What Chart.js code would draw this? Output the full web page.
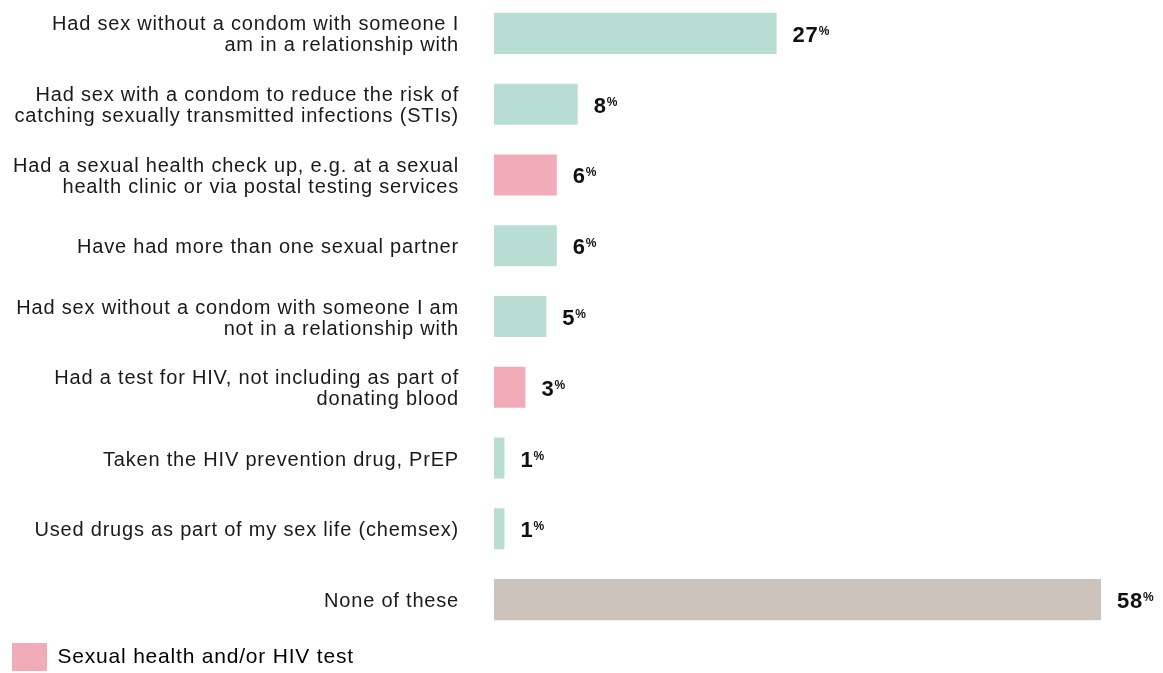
<!DOCTYPE html>
<html>
<head>
<meta charset="utf-8">
<script src="https://cdn.jsdelivr.net/npm/chart.js@4"></script>
<style>
  html, body { margin: 0; padding: 0; background: #fff; overflow: hidden; }
  #wrap { position: absolute; left: 0; top: -2px; width: 1163px; height: 683px; }
</style>
</head>
<body>
<div id="wrap"><canvas id="c"></canvas></div>
<script>
// categories (multi-line labels), values in %, and bar group per row
const labels = [
  ['Had sex without a condom with someone I', 'am in a relationship with'],
  ['Had sex with a condom to reduce the risk of', 'catching sexually transmitted infections (STIs)'],
  ['Had a sexual health check up, e.g. at a sexual', 'health clinic or via postal testing services'],
  'Have had more than one sexual partner',
  ['Had sex without a condom with someone I am', 'not in a relationship with'],
  ['Had a test for HIV, not including as part of', 'donating blood'],
  'Taken the HIV prevention drug, PrEP',
  'Used drugs as part of my sex life (chemsex)',
  'None of these'
];
const values = [27, 8, 6, 6, 5, 3, 1, 1, 58];
const groups = ['other', 'other', 'test', 'other', 'other', 'test', 'other', 'other', 'none'];

const groupColours = { other: '#b8ded3', test: '#f2abb9', none: '#cbc3bc' };
const legendText = 'Sexual health and/or HIV test';
const FONT = '"Liberation Sans", Arial, Helvetica, sans-serif';
const SPACING = '0.8px';

// slightly open tracking for all canvas text (reset whenever the canvas is resized)
const tracking = {
  id: 'tracking',
  beforeUpdate(chart) { chart.ctx.letterSpacing = SPACING; },
  beforeDraw(chart) { chart.ctx.letterSpacing = SPACING; }
};

// value label: bold number followed by a small raised % sign
const valueLabels = {
  id: 'valueLabels',
  afterDatasetsDraw(chart) {
    const ctx = chart.ctx;
    const meta = chart.getDatasetMeta(0);
    ctx.save();
    ctx.fillStyle = '#111';
    ctx.textBaseline = 'alphabetic';
    ctx.textAlign = 'left';
    meta.data.forEach((bar, i) => {
      const num = String(values[i]);
      const x = bar.x + 16;
      const y = bar.y + 8.5;
      ctx.font = 'bold 22px ' + FONT;
      ctx.fillText(num, x, y);
      const w = ctx.measureText(num).width;
      ctx.font = 'bold 12px ' + FONT;
      ctx.fillText('%', x + w, y - 7);
    });
    ctx.restore();
  }
};

new Chart(document.getElementById('c'), {
  type: 'bar',
  data: {
    labels: labels,
    datasets: [{
      data: values,
      backgroundColor: groups.map(g => groupColours[g]),
      borderWidth: 0,
      categoryPercentage: 1,
      barPercentage: 0.58
    }]
  },
  options: {
    indexAxis: 'y',
    responsive: true,
    maintainAspectRatio: false,
    animation: false,
    layout: { padding: { top: 0, right: 62, bottom: 0, left: 4 } },
    scales: {
      x: {
        min: 0,
        max: 58,
        display: false
      },
      y: {
        grid: { display: false },
        border: { display: false },
        ticks: {
          color: '#1a1a1a',
          font: { family: FONT, size: 20, lineHeight: 1.05 },
          padding: 27,
          labelOffset: 2,
          autoSkip: false
        },
        afterFit(scale) {
          scale.width = 490;
          scale.paddingTop = 0;
          scale.paddingBottom = 0;
        }
      }
    },
    plugins: {
      tooltip: { enabled: false },
      legend: {
        position: 'bottom',
        align: 'start',
        labels: {
          boxWidth: 35,
          boxHeight: 28,
          padding: 8,
          color: '#1a1a1a',
          font: { family: FONT, size: 21 },
          generateLabels: () => [{
            text: legendText,
            fillStyle: groupColours.test,
            strokeStyle: groupColours.test,
            lineWidth: 0,
            hidden: false,
            datasetIndex: 0
          }]
        },
        onClick: () => {}
      }
    }
  },
  plugins: [tracking, valueLabels]
});
</script>
</body>
</html>
